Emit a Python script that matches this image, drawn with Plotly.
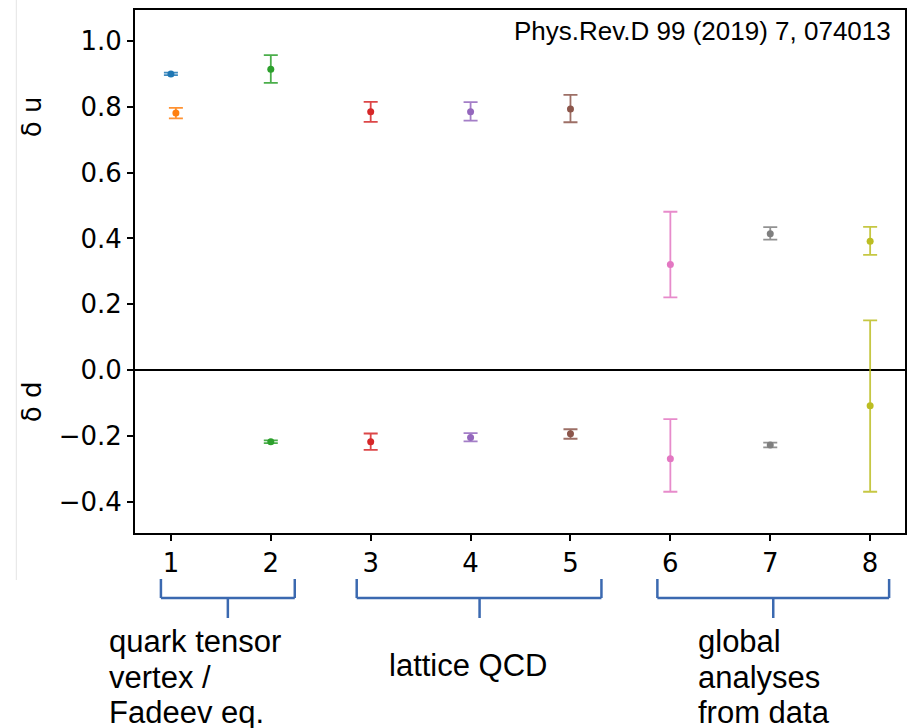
import plotly.graph_objects as go

# ---------------- data ----------------
x_pos = [1, 1.05, 2, 3, 4, 5, 6, 7, 8]
colors = ["#1f77b4", "#ff7f0e", "#2ca02c", "#d62728", "#9467bd",
          "#8c564b", "#e377c2", "#7f7f7f", "#bcbd22"]

du = [0.900, 0.781, 0.914, 0.785, 0.785, 0.793, 0.321, 0.414, 0.391]
du_plus = [0.004, 0.016, 0.043, 0.030, 0.029, 0.043, 0.160, 0.020, 0.044]
du_minus = [0.004, 0.016, 0.041, 0.031, 0.027, 0.040, 0.100, 0.018, 0.041]

dd = [None, None, -0.218, -0.218, -0.205, -0.194, -0.270, -0.228, -0.109]
dd_plus = [None, None, 0.004, 0.025, 0.013, 0.014, 0.121, 0.007, 0.260]
dd_minus = [None, None, 0.004, 0.025, 0.012, 0.015, 0.100, 0.007, 0.261]

x_ticks = [1, 2, 3, 4, 5, 6, 7, 8]
y_ticks = [-0.4, -0.2, 0.0, 0.2, 0.4, 0.6, 0.8, 1.0]

groups = [
    {"start": 0.90, "end": 2.24, "stem": 1.57,
     "lines": ["quark tensor", "vertex /", "Fadeev eq."], "x": -0.0363},
    {"start": 2.86, "end": 5.31, "stem": 4.09,
     "lines": ["lattice QCD"], "x": 0.3277},
    {"start": 5.87, "end": 8.19, "stem": 7.03,
     "lines": ["global", "analyses", "from data"], "x": 0.728},
]
ref_text = "Phys.Rev.D 99 (2019) 7, 074013"


def rgba(hexc, a):
    h = hexc.lstrip("#")
    r, g, b = int(h[0:2], 16), int(h[2:4], 16), int(h[4:6], 16)
    return f"rgba({r},{g},{b},{a})"


fig = go.Figure()

for i in range(len(x_pos)):
    c = colors[i]
    fig.add_trace(go.Scatter(
        x=[x_pos[i]], y=[du[i]], mode="markers",
        marker=dict(color=c, size=7),
        error_y=dict(type="data", symmetric=False, array=[du_plus[i]],
                     arrayminus=[du_minus[i]], color=rgba(c, 0.85),
                     thickness=1.8, width=7),
        showlegend=False))
    if dd[i] is not None:
        fig.add_trace(go.Scatter(
            x=[x_pos[i]], y=[dd[i]], mode="markers",
            marker=dict(color=c, size=7),
            error_y=dict(type="data", symmetric=False, array=[dd_plus[i]],
                         arrayminus=[dd_minus[i]], color=rgba(c, 0.85),
                         thickness=1.8, width=7),
            showlegend=False))

# ---------------- layout ----------------
W, H = 915, 728
L, R, T, B = 135, 8, 10, 195

fig.update_layout(
    width=W, height=H, autosize=False,
    margin=dict(l=L, r=R, t=T, b=B),
    paper_bgcolor="white", plot_bgcolor="white",
    font=dict(family="DejaVu Sans", size=26, color="black"),
)
fig.update_xaxes(
    range=[0.6405, 8.349], tickvals=x_ticks, ticktext=[str(v) for v in x_ticks],
    showgrid=False, zeroline=False, showline=True, mirror=True,
    linecolor="black", linewidth=2, ticks="outside", ticklen=6,
    tickwidth=1.5, tickcolor="black",
    tickfont=dict(family="DejaVu Sans", size=26, color="black"))
fig.update_yaxes(
    range=[-0.4954, 1.0942], tickvals=y_ticks, tickformat=".1f",
    showgrid=False, zeroline=True, zerolinecolor="black", zerolinewidth=2,
    showline=True, mirror=True,
    linecolor="black", linewidth=2, ticks="outside", ticklen=6,
    tickwidth=1.5, tickcolor="black",
    tickfont=dict(family="DejaVu Sans", size=26, color="black"))

ph = H - T - B  # 523
pw = W - L - R  # 772


def py(pix):
    return (H - B - pix) / ph


def px(pix):
    return (pix - L) / pw


shapes = []
brace_col = "#3b69b0"
y_top, y_mid, y_bot = py(579), py(598), py(618)
for g in groups:
    for (x0, y0, x1, y1) in [
        (g["start"], y_top, g["start"], y_mid),
        (g["start"], y_mid, g["end"], y_mid),
        (g["end"], y_top, g["end"], y_mid),
        (g["stem"], y_mid, g["stem"], y_bot),
    ]:
        shapes.append(dict(type="line", xref="x", yref="paper",
                           x0=x0, y0=y0, x1=x1, y1=y1,
                           line=dict(color=brace_col, width=2.5)))

# faint image border line on the left
shapes.append(dict(type="line", xref="paper", yref="paper",
                   x0=px(16), x1=px(16), y0=py(0), y1=py(580),
                   line=dict(color="#e4e4e4", width=1)))
fig.update_layout(shapes=shapes)

annotations = []
line_centers = [641, 677, 712]
for g in groups:
    if len(g["lines"]) == 1:
        centers = [665]
    else:
        centers = line_centers
    for txt, cy in zip(g["lines"], centers):
        annotations.append(dict(
            text=txt, xref="paper", yref="paper", x=g["x"], y=py(cy),
            xanchor="left", yanchor="middle", showarrow=False,
            font=dict(family="Liberation Sans", size=31, color="black")))

annotations.append(dict(
    text=ref_text, xref="paper", yref="paper", x=px(895), y=py(31),
    xanchor="right", yanchor="middle", showarrow=False,
    font=dict(family="Liberation Sans", size=26, color="black")))

annotations.append(dict(
    text="δ u", xref="paper", yref="paper", x=px(32), y=py(117),
    xanchor="center", yanchor="middle", showarrow=False, textangle=-90,
    font=dict(family="DejaVu Sans", size=26, color="black")))
annotations.append(dict(
    text="δ d", xref="paper", yref="paper", x=px(32), y=py(402),
    xanchor="center", yanchor="middle", showarrow=False, textangle=-90,
    font=dict(family="DejaVu Sans", size=26, color="black")))

fig.update_layout(annotations=annotations)

fig.write_html("out.html")
